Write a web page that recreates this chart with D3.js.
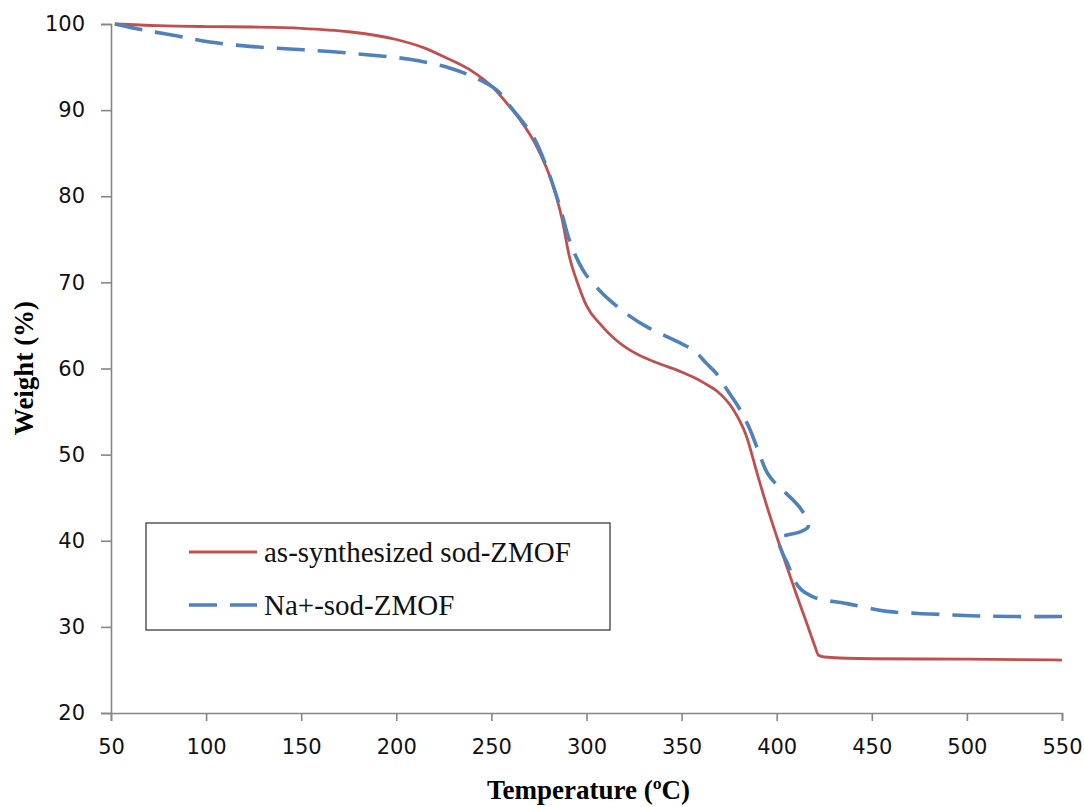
<!DOCTYPE html>
<html>
<head>
<meta charset="utf-8">
<script src="https://cdn.jsdelivr.net/npm/d3@7/dist/d3.min.js"></script>
<style>
  html, body { margin: 0; padding: 0; background: #fff; }
  svg { display: block; }
</style>
</head>
<body>
<svg id="chart" width="1084" height="807"></svg>
<script>
// ---- Data ----
const xTicks = [50, 100, 150, 200, 250, 300, 350, 400, 450, 500, 550];
const yTicks = [20, 30, 40, 50, 60, 70, 80, 90, 100];
const seriesNames = ["as-synthesized sod-ZMOF", "Na+-sod-ZMOF"];

// as-synthesized sod-ZMOF : temperature °C / weight %
const asSynthTemp = [52, 75, 100, 125, 150, 175, 200, 215, 225, 240, 250, 260, 265, 274, 282, 287, 291, 296, 300, 307, 315, 321, 330, 339, 350, 356, 362, 369, 377, 384, 390, 395, 400, 405, 410, 416, 420, 422, 425, 450, 500, 550];
const asSynthWeight = [100, 99.8, 99.7, 99.65, 99.5, 99.1, 98.2, 97.2, 96.2, 94.5, 92.8, 90.3, 88.9, 85.7, 81.5, 77.5, 73.0, 69.5, 67.3, 65.2, 63.4, 62.4, 61.3, 60.5, 59.6, 59.0, 58.3, 57.3, 55.3, 52.2, 47.6, 43.9, 40.5, 37.2, 34.0, 30.3, 27.8, 26.7, 26.5, 26.3, 26.25, 26.15];

// Na+-sod-ZMOF : temperature °C / weight %
const naTemp = [52, 67, 85, 102, 123, 144, 165, 186, 207, 228, 242, 253, 260, 272, 279, 286, 291, 296, 300, 308, 314, 322, 332, 349, 357, 363, 368, 374, 380, 386, 391, 395, 400, 405, 412, 416, 416.5, 412, 406, 401, 403, 406, 409, 413, 418, 423, 437, 458, 481, 502, 524, 550];
const naWeight = [100, 99.3, 98.6, 97.9, 97.4, 97.1, 96.8, 96.4, 95.9, 94.9, 93.7, 92.3, 90.4, 86.9, 83.4, 78.8, 74.9, 72.3, 70.8, 68.8, 67.6, 66.2, 64.8, 63.0, 62.0, 60.6, 59.5, 57.5, 55.5, 52.9, 50.0, 47.9, 46.5, 45.5, 43.9, 42.4, 41.6, 41.0, 40.7, 40.3, 38.6, 37.2, 35.5, 34.3, 33.6, 33.2, 32.7, 31.8, 31.5, 31.3, 31.2, 31.2];

// ---- Layout ----
const svg = d3.select("#chart");
const plot = { left: 111, right: 1062, top: 24, bottom: 713 };

const x = d3.scaleLinear().domain([50, 550]).range([plot.left, plot.right]);
const y = d3.scaleLinear().domain([20, 100]).range([plot.bottom, plot.top]);

const axisColor = "#868686";
const tickFont = "'DejaVu Sans', Verdana, sans-serif";
const serif = "'Liberation Serif', 'Times New Roman', serif";

// Y axis
const yAxis = svg.append("g")
  .attr("transform", `translate(${plot.left},0)`)
  .call(d3.axisLeft(y).tickValues(yTicks).tickSize(10).tickPadding(16).tickFormat(d3.format("d")));
// X axis
const xAxis = svg.append("g")
  .attr("transform", `translate(0,${plot.bottom})`)
  .call(d3.axisBottom(x).tickValues(xTicks).tickSize(8).tickPadding(18).tickFormat(d3.format("d")));

[yAxis, xAxis].forEach(g => {
  g.select(".domain").attr("stroke", axisColor).attr("stroke-width", 1.6);
  g.selectAll(".tick line").attr("stroke", axisColor).attr("stroke-width", 1.6);
  g.selectAll(".tick text")
    .attr("fill", "#111")
    .style("font-family", tickFont)
    .style("font-size", "21px");
});
xAxis.selectAll(".tick text").attr("dy", "0.71em");

// Lines
const lineSmooth = d3.line()
  .x(d => x(d[0]))
  .y(d => y(d[1]))
  .curve(d3.curveMonotoneX);
const lineParam = d3.line()
  .x(d => x(d[0]))
  .y(d => y(d[1]))
  .curve(d3.curveCatmullRom.alpha(0.5));

const asSynth = asSynthTemp.map((t, i) => [t, asSynthWeight[i]]);
const na = naTemp.map((t, i) => [t, naWeight[i]]);

const red = "#C0504D", blue = "#4F81BD";

svg.append("path")
  .datum(asSynth)
  .attr("d", lineSmooth)
  .attr("fill", "none")
  .attr("stroke", red)
  .attr("stroke-width", 2.8)
  .attr("stroke-linejoin", "round");

svg.append("path")
  .datum(na)
  .attr("d", lineParam)
  .attr("fill", "none")
  .attr("stroke", blue)
  .attr("stroke-width", 3.6)
  .attr("stroke-dasharray", "28,13");

// Axis titles
svg.append("text")
  .attr("x", (plot.left + plot.right) / 2 + 2)
  .attr("y", 799)
  .attr("text-anchor", "middle")
  .style("font-family", serif)
  .style("font-weight", "bold")
  .style("font-size", "27px")
  .attr("fill", "#000")
  .text("Temperature (ºC)");

svg.append("text")
  .attr("transform", "translate(33,368) rotate(-90)")
  .attr("text-anchor", "middle")
  .style("font-family", serif)
  .style("font-weight", "bold")
  .style("font-size", "27px")
  .attr("fill", "#000")
  .text("Weight (%)");

// Legend
const legend = svg.append("g");
legend.append("rect")
  .attr("x", 146).attr("y", 523)
  .attr("width", 464).attr("height", 107)
  .attr("fill", "#fff")
  .attr("stroke", "#3c3c3c")
  .attr("stroke-width", 1.3);

const legendRows = [
  { name: seriesNames[0], color: red, width: 2.8, dash: null, cy: 552 },
  { name: seriesNames[1], color: blue, width: 3.6, dash: "28,13", cy: 605 }
];
legendRows.forEach(r => {
  legend.append("line")
    .attr("x1", 189).attr("x2", 257)
    .attr("y1", r.cy).attr("y2", r.cy)
    .attr("stroke", r.color)
    .attr("stroke-width", r.width)
    .attr("stroke-dasharray", r.dash);
  legend.append("text")
    .attr("x", 264).attr("y", r.cy)
    .attr("dy", "0.35em")
    .style("font-family", serif)
    .style("font-size", "29px")
    .attr("fill", "#111")
    .text(r.name);
});
</script>
</body>
</html>
